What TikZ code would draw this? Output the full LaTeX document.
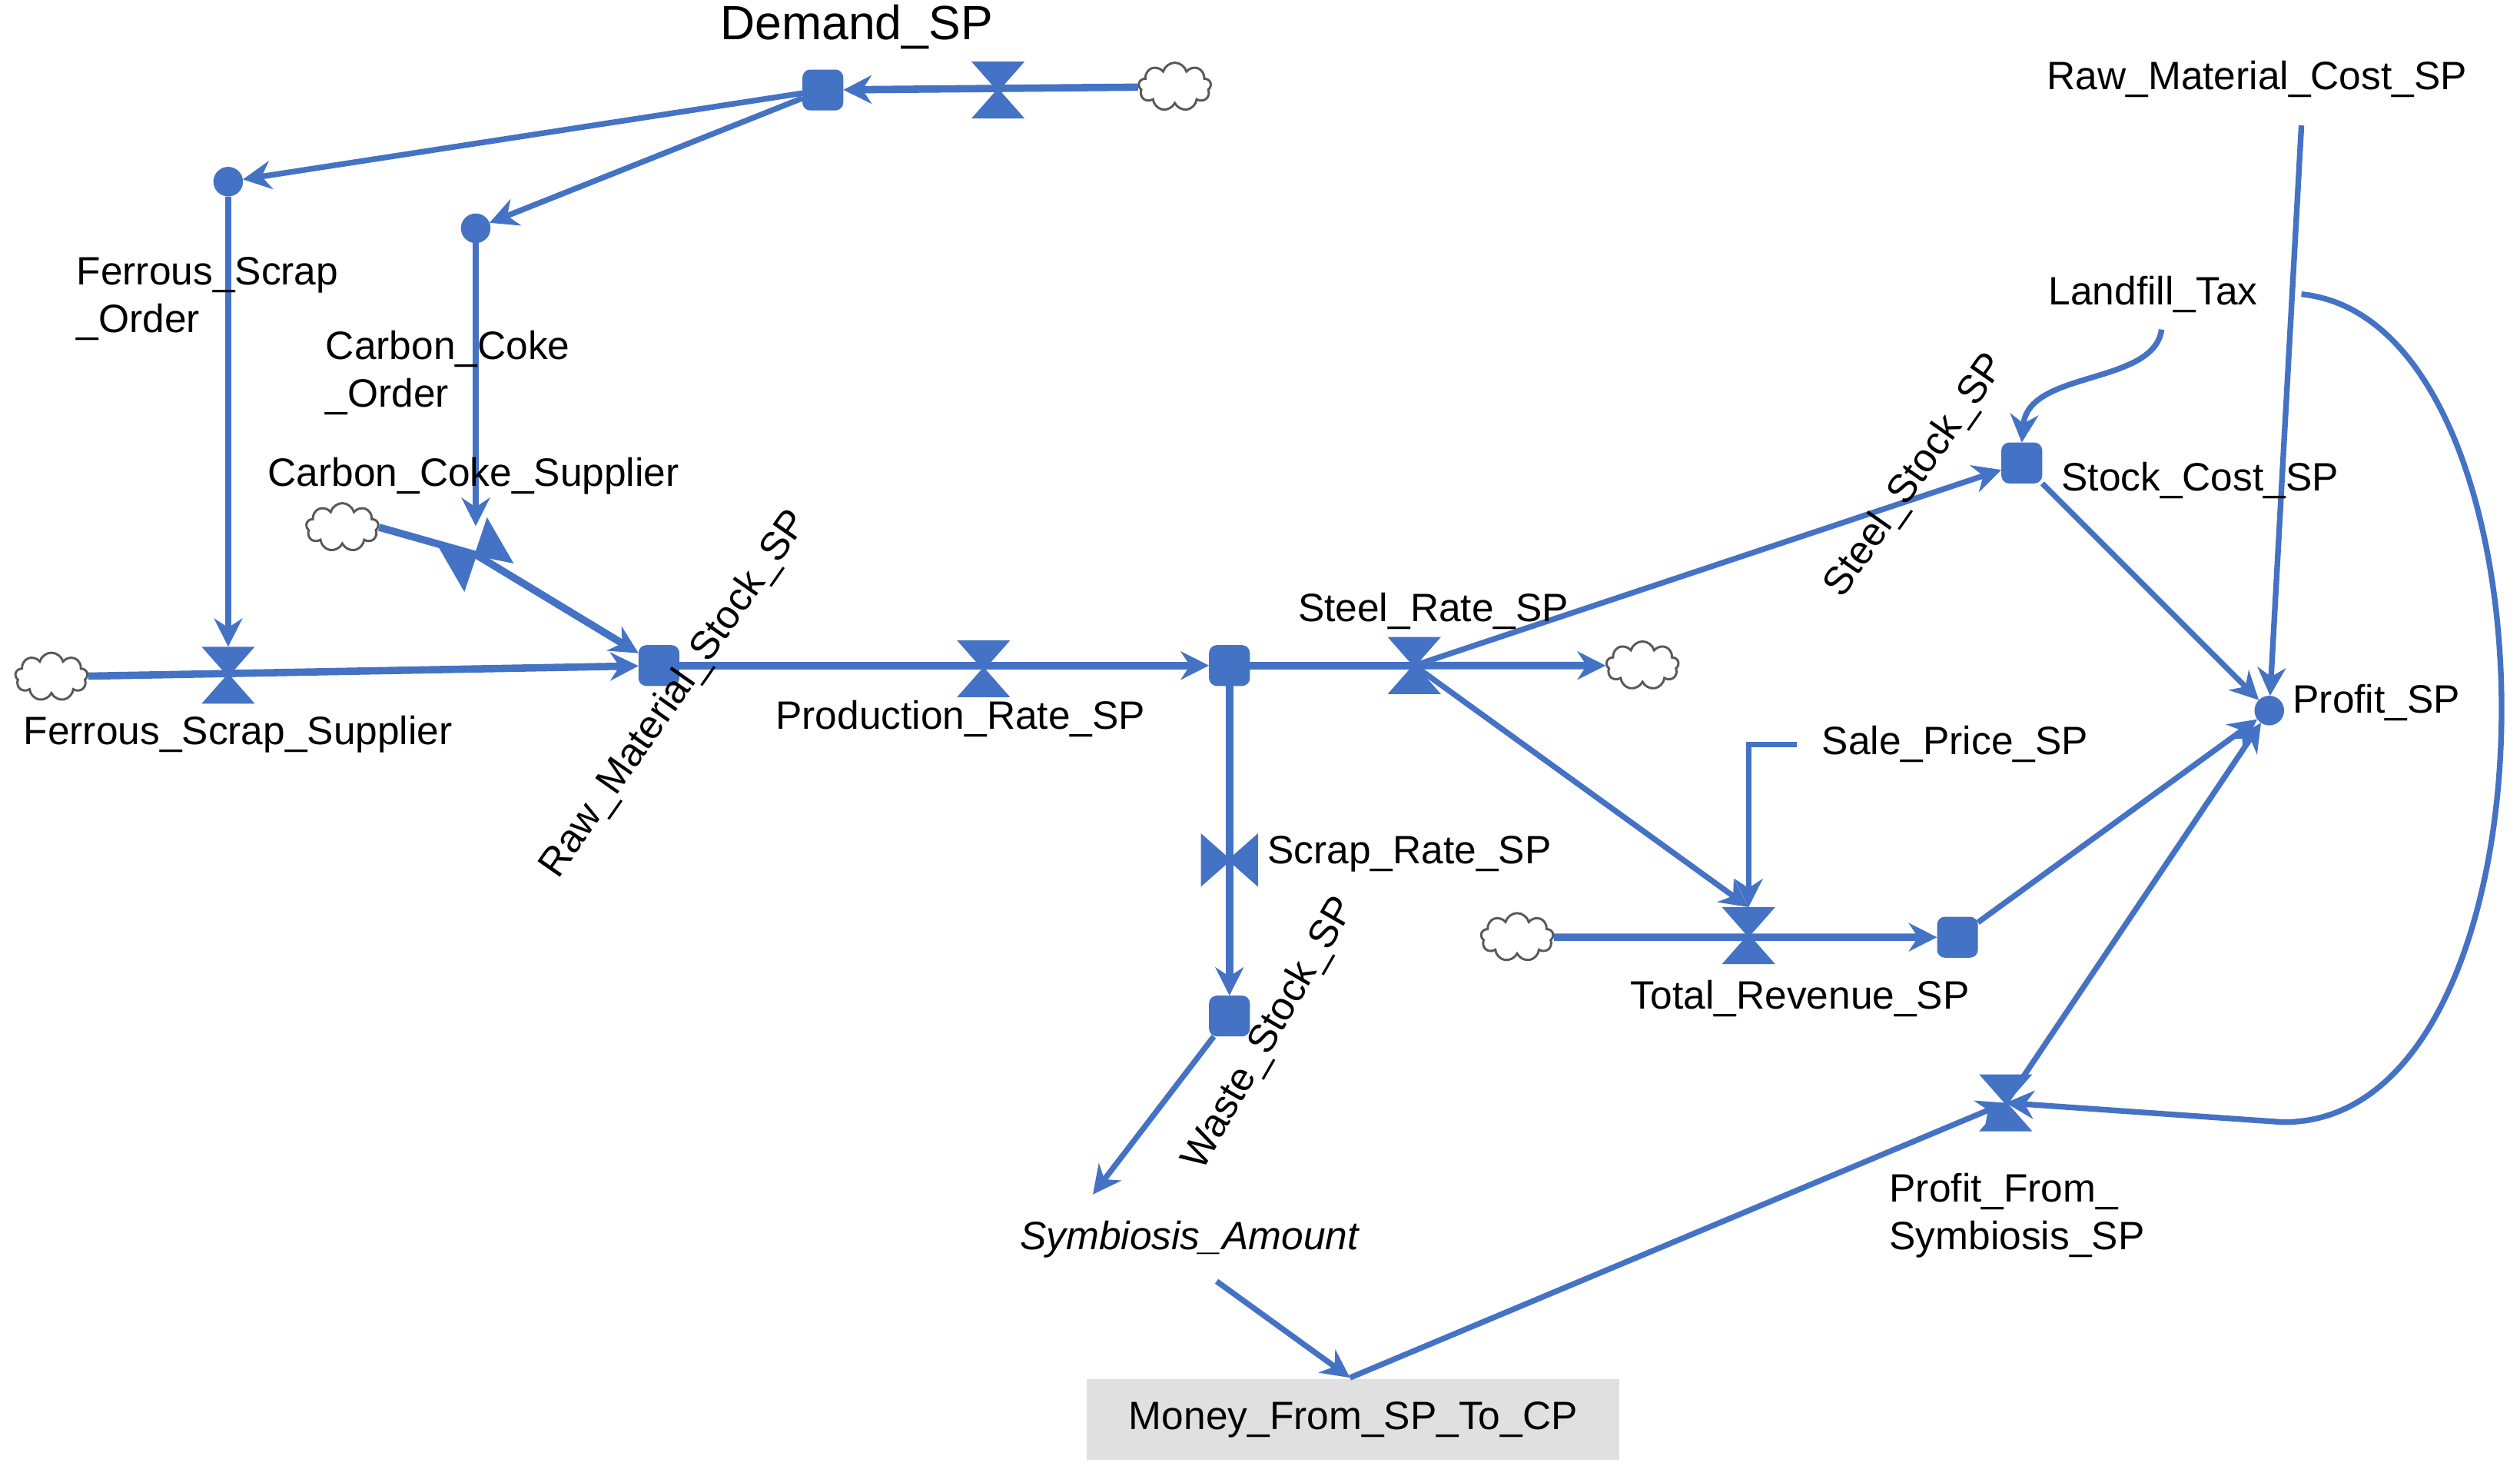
\documentclass[tikz,border=0pt]{standalone}
\usepackage{fontspec}
\setmainfont{Liberation Sans}
\usetikzlibrary{shapes.symbols,arrows.meta}
\definecolor{vb}{RGB}{68,114,196}
\begin{document}
\begin{tikzpicture}[x=0.01cm,y=-0.01cm,font=\fontsize{7}{8.4}\selectfont,
 stock/.style={draw=vb,fill=vb,rounded corners=1.2pt,minimum size=0.24cm,inner sep=0},
 aux/.style={circle,draw=vb,fill=vb,minimum size=0.17cm,inner sep=0},
 vnode/.style={inner sep=0,minimum width=0.3cm,minimum height=0.34cm},
 cl/.style={cloud,cloud puffs=9,draw=gray!70!black,fill=white,minimum width=0.45cm,minimum height=0.3cm,inner sep=0,line width=0.4pt},
 flow/.style={vb,line width=1.3pt,-{Stealth[length=5pt,width=5pt]}},
 flown/.style={vb,line width=1.3pt},
 con/.style={vb,line width=1pt,-{Stealth[length=5pt,width=5pt]}},
 lab/.style={inner sep=0,anchor=west},
 pics/vh/.style={code={\fill[vb,draw=vb] (-15,-17)--(15,-17)--(0,0)--cycle (-15,17)--(15,17)--(0,0)--cycle;}},
 pics/vv/.style={code={\fill[vb,draw=vb] (-17,-15)--(-17,15)--(0,0)--cycle (17,-15)--(17,15)--(0,0)--cycle;}}
]
\useasboundingbox (0,0) rectangle (1568,918);
% nodes
\node[stock] (dem) at (512,56) {};
\node[vnode] (vdem) at (621,56) {};
\node[cl] (cdem) at (731,54) {};
\node[aux] (fso) at (142,113) {};
\node[aux] (cco) at (296,142) {};
\node[cl] (cfs) at (32,421) {};
\node[vnode] (vfs) at (142,420) {};
\node[cl] (ccc) at (213,328) {};
\node[vnode] (vcc) at (296,345) {};
\node[stock] (raw) at (410,414) {};
\node[vnode] (vpr) at (612,416) {};
\node[stock] (steel) at (765,414) {};
\node[vnode] (vsr) at (880,414) {};
\node[cl] (csr) at (1022,414) {};
\node[vnode] (vsc) at (765,535) {};
\node[stock] (waste) at (765,632) {};
\node[cl] (ctr) at (944,583) {};
\node[vnode] (vtr) at (1088,582) {};
\node[stock] (tr) at (1218,583) {};
\node[stock] (scost) at (1258,288) {};
\node[aux] (profit) at (1412,442) {};
\node[vnode] (vpf) at (1248,686) {};
\coordinate (spc) at (1118,463);
% flows
\draw[flow] (cdem) -- (dem);
\draw[flow] (cfs) -- (raw);
\draw[flow] (ccc.east) -- (vcc.center) -- (raw);
\draw[flow] (raw) -- (steel);
\draw[flown] (steel) -- (vsr.center);
\draw[flow] (vsr.center) -- (csr.west);
\draw[flow] (steel) -- (waste);
\draw[flow] (ctr) -- (tr);
% valves
\pic at (vdem) {vh};
\pic at (vfs) {vh};
\pic[rotate=-60] at (vcc) {vh};
\pic at (vpr) {vh};
\pic at (vsr) {vh};
\pic at (vsc) {vv};
\pic at (vtr) {vh};
\pic at (vpf) {vh};
% connectors
\draw[con] (dem) -- (fso);
\draw[con] (dem) -- (cco);
\draw[con] (fso) -- (vfs.north);
\draw[con] (cco) -- (vcc.north);
\draw[con] (vsr.center) -- (scost);
\draw[con] (vsr.center) -- (vtr.north);
\draw[con] (spc) -- (1088,463) -- (vtr.north);
\draw[con] (scost) -- (profit);
\draw[con] (tr) -- (profit);
\draw[con] (vpf.center) -- (profit);
\node[lab] (rmc) at (1273,49) {Raw\_Material\_Cost\_SP};
\draw[con] (1432,78) -- (profit);
\node[lab] (lt) at (1274,183) {Landfill\_Tax};
\draw[con] (1345,205) .. controls (1340,240) and (1262,230) .. (scost.north);
\draw[con] (1432,183) .. controls (1600,200) and (1600,700) .. (1420,698) -- (vpf.center);
\node[inner sep=0] (sym) at (740,771) {\itshape Symbiosis\_Amount};
\draw[con] (waste) -- (680,743);
\node[fill=black!12,minimum width=3.31cm,minimum height=0.5cm] (money) at (842,883) {Money\_From\_SP\_To\_CP};
\draw[con] (757,797) -- (840,857);
\draw[con] (840,857) -- (vpf.center);
% labels
\node[inner sep=0,font=\fontsize{8.5}{10}\selectfont] at (533,17) {Demand\_SP};
\node[lab,align=left] at (47,186) {Ferrous\_Scrap\\\_Order};
\node[lab,align=left] at (202,232) {Carbon\_Coke\\\_Order};
\node[lab] at (166,296) {Carbon\_Coke\_Supplier};
\node[lab] at (14,457) {Ferrous\_Scrap\_Supplier};
\node[inner sep=0,rotate=55] at (420,432) {Raw\_Material\_Stock\_SP};
\node[lab] at (482,447) {Production\_Rate\_SP};
\node[lab] at (807,380) {Steel\_Rate\_SP};
\node[inner sep=0,rotate=55] at (1192,296) {Steel\_Stock\_SP};
\node[lab] at (1282,299) {Stock\_Cost\_SP};
\node[lab] at (1426,437) {Profit\_SP};
\node[lab] at (1133,463) {Sale\_Price\_SP};
\node[lab] at (788,531) {Scrap\_Rate\_SP};
\node[inner sep=0,rotate=60] at (790,643) {Waste\_Stock\_SP};
\node[lab] at (1014,621) {Total\_Revenue\_SP};
\node[lab,align=left] at (1175,756) {Profit\_From\_\\Symbiosis\_SP};
\end{tikzpicture}
\end{document}
